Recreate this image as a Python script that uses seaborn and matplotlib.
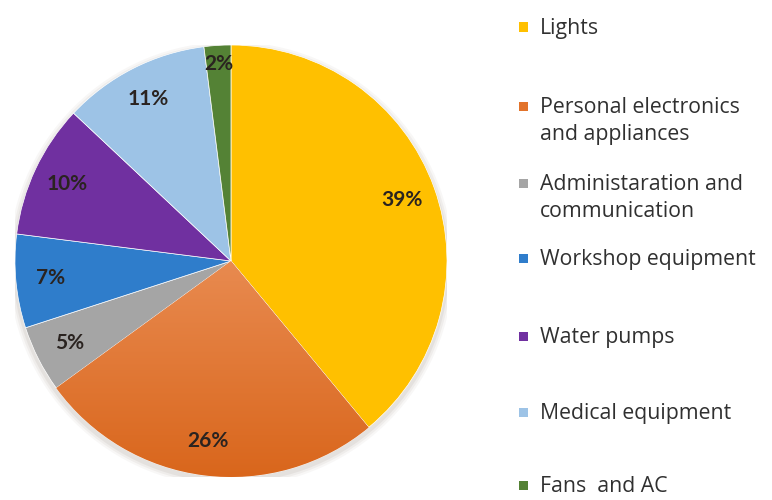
import matplotlib
matplotlib.use("Agg")
import matplotlib.pyplot as plt
import numpy as np
import seaborn as sns
from matplotlib.patches import Rectangle
from matplotlib.colors import LinearSegmentedColormap

sns.set_theme(style="white")
plt.rcParams["font.family"] = ["Open Sans", "DejaVu Sans"]

categories = [
    "Lights",
    "Personal electronics\nand appliances",
    "Administaration and\ncommunication",
    "Workshop equipment",
    "Water pumps",
    "Medical equipment",
    "Fans  and AC",
]
shares = [39, 26, 5, 7, 10, 11, 2]
pct_labels = ["39%", "26%", "5%", "7%", "10%", "11%", "2%"]
colors = sns.color_palette(["#FFC000", "#E2732B", "#A5A5A5", "#2F7DCB",
                            "#7030A0", "#9DC3E6", "#548235"])

fig = plt.figure(figsize=(7.72, 5.0), dpi=100)
fig.patch.set_facecolor("white")

ax = fig.add_axes([0.0194, 0.046, 0.5596, 0.864])

# soft drop shadow under the pie
for k, a in zip([1.03, 1.02, 1.01], [0.05, 0.07, 0.09]):
    ax.add_patch(plt.Circle((0.0, -0.015), k, color="#7a6a60", alpha=a, lw=0, zorder=0))

wedges, texts = ax.pie(
    shares,
    colors=colors,
    startangle=90,
    counterclock=False,
    labels=pct_labels,
    labeldistance=0.84,
    wedgeprops=dict(linewidth=0.5, edgecolor="white", zorder=2),
    textprops=dict(fontsize=15, fontweight="bold", color="#2a2320",
                   family=["Lato", "DejaVu Sans"]),
)
for t in texts:
    t.set_horizontalalignment("center")
    t.set_verticalalignment("center")
    t.set_zorder(5)
texts[-1].set_position(np.array(texts[-1].get_position()) * 1.09)

# light-to-dark shading across the orange slice
grad = np.linspace(0, 1, 256).reshape(-1, 1)
cmap = LinearSegmentedColormap.from_list("orng", ["#D9661C", "#EA8E55"])
im = ax.imshow(grad, extent=(-1, 1, -1, 0.1), origin="lower", cmap=cmap,
               aspect="auto", zorder=3)
im.set_clip_path(wedges[1])
ax.set_xlim(-1.0, 1.0)
ax.set_ylim(-1.0, 1.0)
ax.set_aspect("equal")
ax.axis("off")

# legend column on the right
legend_rows = [27, 106, 183, 258, 336, 412, 485]
for cat, col, ypix in zip(categories, colors, legend_rows):
    yf = 1 - ypix / 500
    fig.patches.append(Rectangle((519 / 772, yf - 4.5 / 500), 9 / 772, 9 / 500,
                                 transform=fig.transFigure, facecolor=col,
                                 edgecolor="none"))
    fig.text(540 / 772, yf + 9 / 500, cat, ha="left", va="top", fontsize=15.3,
             color="#303030", linespacing=1.36)

fig.savefig("out.png", dpi=100, facecolor="white")
